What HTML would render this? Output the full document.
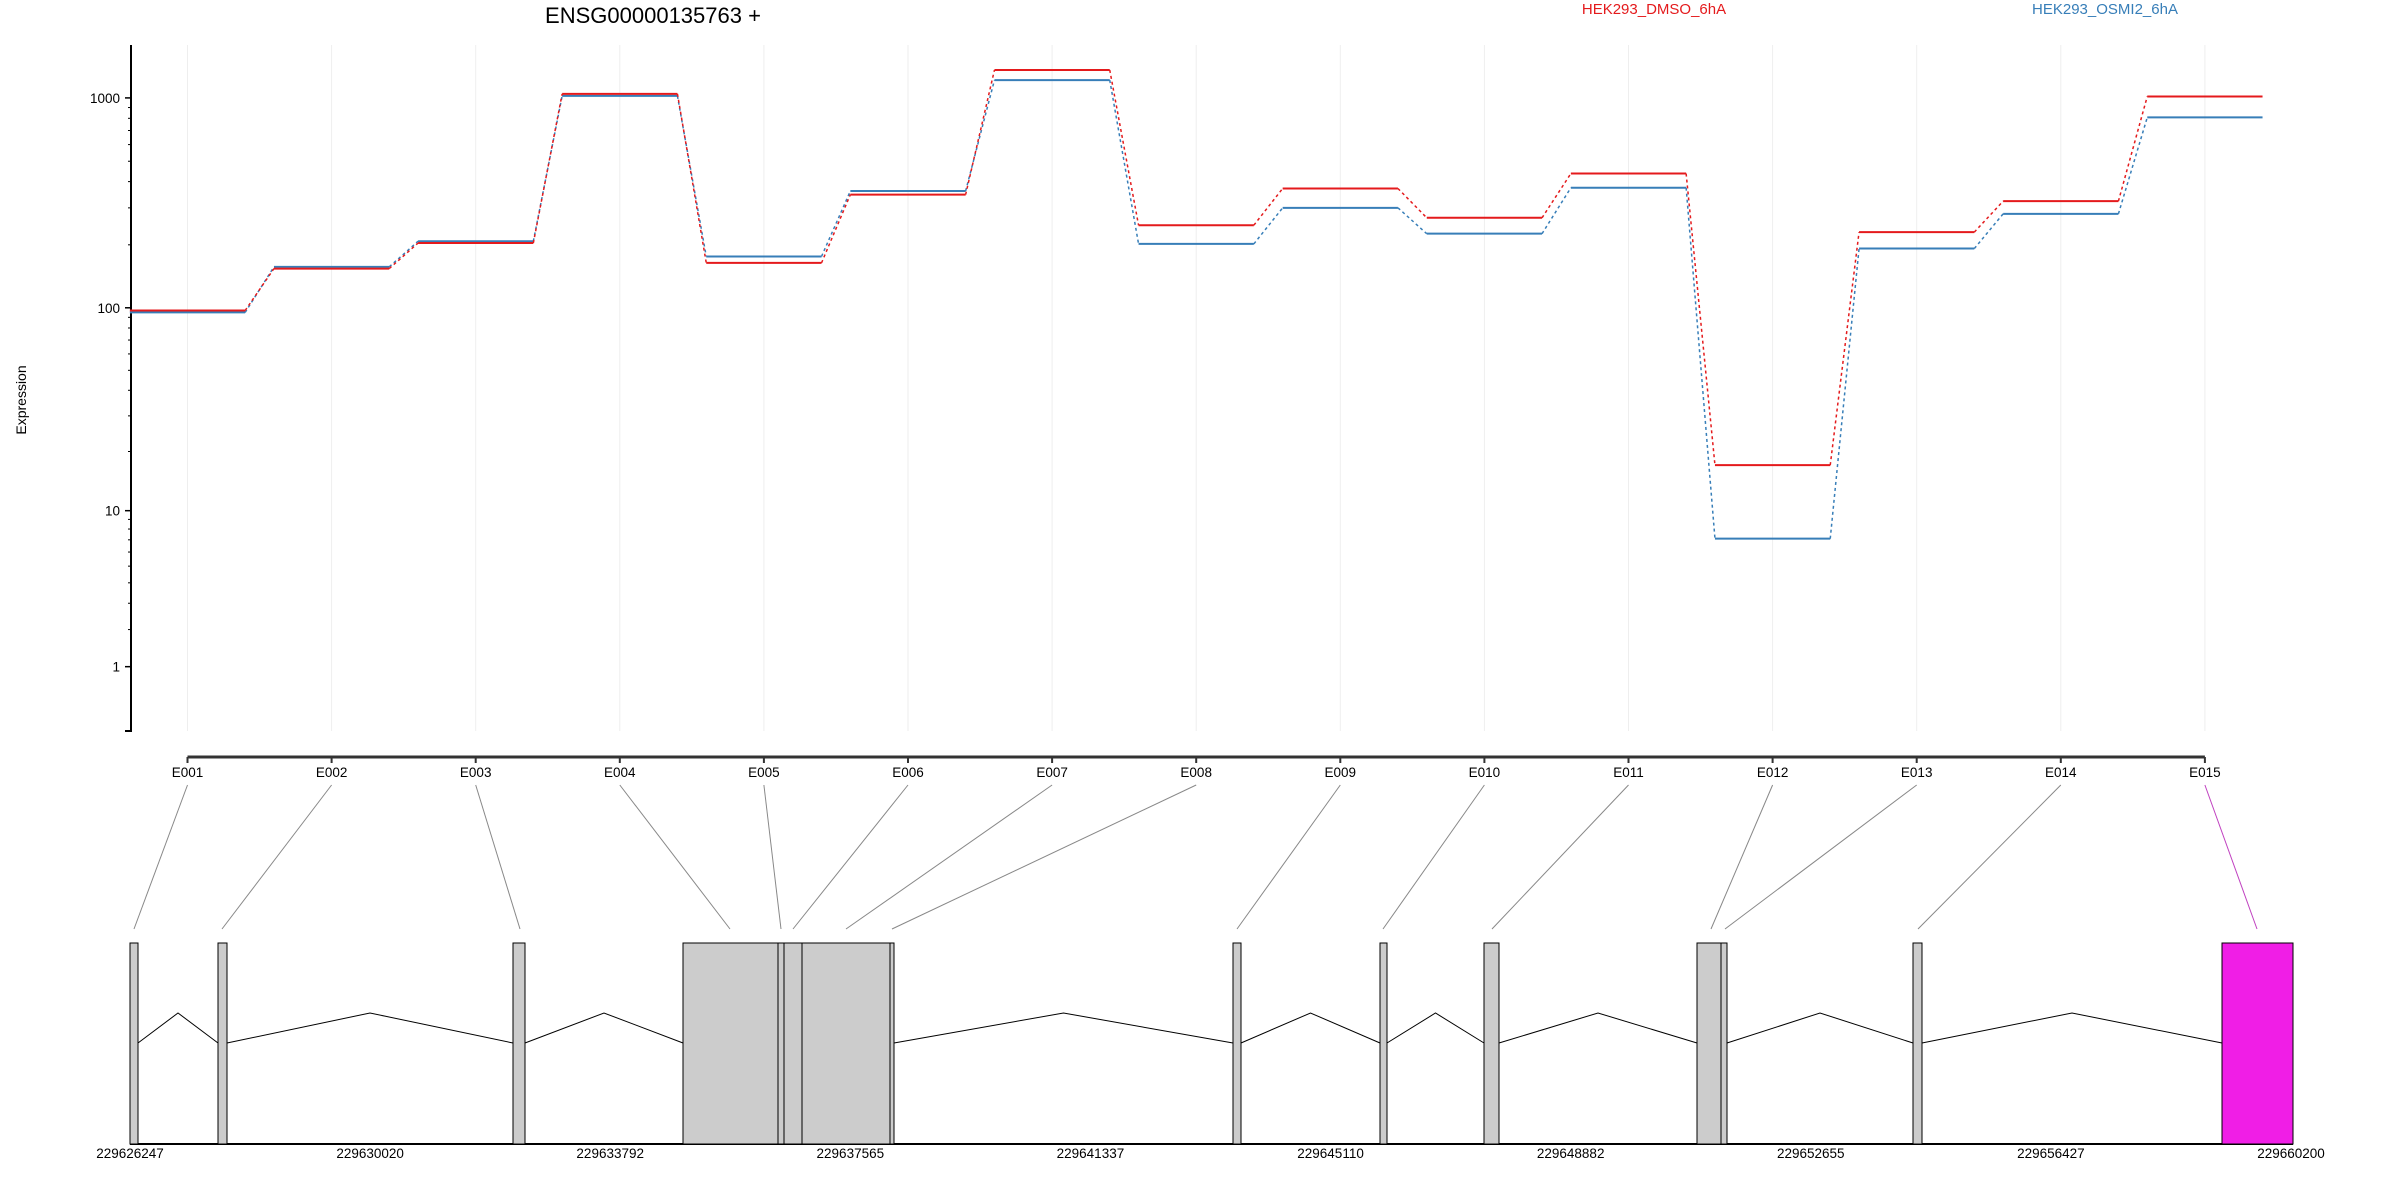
<!DOCTYPE html>
<html><head><meta charset="utf-8"><style>
html,body{margin:0;padding:0;background:#fff;}
svg{display:block;font-family:"Liberation Sans",sans-serif;}
</style></head><body>
<svg id="chart" width="2400" height="1200" viewBox="0 0 2400 1200" xmlns="http://www.w3.org/2000/svg">
<text x="653" y="23" font-size="22" text-anchor="middle">ENSG00000135763 +</text>
<text x="1654" y="14" font-size="15" fill="#e41a1c" text-anchor="middle">HEK293_DMSO_6hA</text>
<text x="2105" y="14" font-size="15" fill="#377eb8" text-anchor="middle">HEK293_OSMI2_6hA</text>
<text transform="translate(26,400) rotate(-90)" font-size="14" text-anchor="middle">Expression</text>
<g id="grid"></g><g id="yaxis"></g><g id="xaxis"></g><g id="series"></g><g id="gene"></g>
</svg>
<script>
const exonLabels = ["E001","E002","E003","E004","E005","E006","E007","E008","E009","E010","E011","E012","E013","E014","E015"];
const dmsoValues = [97,154,204,1045,164,347,1357,248,371,269,437,17.1,230,323,1016];
const osmi2Values = [95,157,208,1022,176,361,1215,202,300,226,374,7.1,192,281,808];
const yTickValues = [1,10,100,1000];
const yTickLabels = ["1","10","100","1000"];
const geneTickLabels = ["229626247","229630020","229633792","229637565","229641337","229645110","229648882","229652655","229656427","229660200"];
const genomeStart = 229626247, genomeEnd = 229660200;
// exon genomic coordinates (approx) [start,end]
const exonStarts = [229626247,229627787,229631639,229635640,229636848,229636962,229637256,229638584,229645230,229646859,229648543,229652208,229652576,229655590,229662830];
const exonEnds   = [229626388,229627943,229631845,229637181,229636962,229637256,229638567,229638654,229645371,229646974,229648803,229652576,229652682,229655747,229664069];
const exonTargets = [0,1,2,3,4,5,6,7,8,9,10,11,12,13,14];

const NS="http://www.w3.org/2000/svg";
function mk(tag,attrs,parent){const e=document.createElementNS(NS,tag);for(const k in attrs)e.setAttribute(k,attrs[k]);parent.appendChild(e);return e;}
const x0=187.5, dx=144.1;
const xScale = i => x0 + i*dx;
const yScale = v => 98 + (3 - Math.log10(v+1))*210.7;
const gx = g => 130 + (g-genomeStart)/(genomeEnd-genomeStart)*(2291-130);

const grid=document.getElementById('grid');
exonLabels.forEach((l,i)=>{const ln=mk('line',{x1:xScale(i),x2:xScale(i),y1:45,y2:731,stroke:'#eeeeee','stroke-width':1},grid);

});

const ya=document.getElementById('yaxis');
let yl=mk('line',{x1:131,x2:131,y1:45,y2:731,stroke:'#000','stroke-width':2},ya);


mk('line',{x1:125,x2:132,y1:731,y2:731,stroke:'#000','stroke-width':2},ya);
for(let d=0;d<4;d++){for(let m=2;m<10;m++){const v=m*Math.pow(10,d);if(v>1700)break;mk('line',{x1:128,x2:131,y1:yScale(v),y2:yScale(v),stroke:'#000','stroke-width':1},ya);}}
yTickValues.forEach((v,i)=>{mk('line',{x1:125,x2:131,y1:yScale(v),y2:yScale(v),stroke:'#000','stroke-width':1.5},ya);
const t=mk('text',{x:120,y:yScale(v)+5,'font-size':13.5,'text-anchor':'end'},ya);t.textContent=yTickLabels[i];

});

const xa=document.getElementById('xaxis');
let xl=mk('line',{x1:xScale(0),x2:xScale(14),y1:757,y2:757,stroke:'#333','stroke-width':3},xa);


exonLabels.forEach((l,i)=>{mk('line',{x1:xScale(i),x2:xScale(i),y1:757,y2:763,stroke:'#333','stroke-width':2},xa);
const t=mk('text',{x:xScale(i),y:777,'font-size':13.5,'text-anchor':'middle'},xa);t.textContent=l;

});

const sg=document.getElementById('series');
function drawSeries(vals,color,name){
  const g=mk('g',{},sg);
  
  
  const hw=dx*0.4;
  vals.forEach((v,i)=>{
    const s=mk('line',{x1:xScale(i)-hw,x2:xScale(i)+hw,y1:yScale(v),y2:yScale(v),stroke:color,'stroke-width':2},g);
    
    
    if(i<vals.length-1){
      const c=mk('line',{x1:xScale(i)+hw,x2:xScale(i+1)-hw,y1:yScale(v),y2:yScale(vals[i+1]),stroke:color,'stroke-width':1.5,'stroke-dasharray':'3,3'},g);
      
      
    }
  });
}
drawSeries(osmi2Values,'#377eb8','osmi2');
drawSeries(dmsoValues,'#e41a1c','dmso');

const gg=document.getElementById('gene');
let ga=mk('line',{x1:130,x2:2293,y1:1144,y2:1144,stroke:'#000','stroke-width':2},gg);


geneTickLabels.forEach((l,i)=>{const x=130+i*(2291-130)/9;const t=mk('text',{x:x,y:1158,'font-size':13.5,'text-anchor':'middle'},gg);t.textContent=l;

});
// exon rectangles (drawn pieces)
const rects=[[130,138],[218,227],[513,525],[683,778],[778,784],[784,802],[802,890],[890,894],[1233,1241],[1380,1387],[1484,1499],[1697,1721],[1721,1727],[1913,1922]];
const magenta=[2222,2293];
// introns between rects
const intr=[[138,218],[227,513],[525,683],[894,1233],[1241,1380],[1387,1484],[1499,1697],[1727,1913],[1922,2222]];
intr.forEach((p,i)=>{const m=(p[0]+p[1])/2;const pl=mk('polyline',{points:`${p[0]},1043 ${m},1013 ${p[1]},1043`,fill:'none',stroke:'#000','stroke-width':1},gg);

});
rects.forEach((r,i)=>{const re=mk('rect',{x:r[0],y:943,width:r[1]-r[0],height:201,fill:'#cccccc',stroke:'#000','stroke-width':1},gg);

});
let mr=mk('rect',{x:magenta[0],y:943,width:magenta[1]-magenta[0],height:201,fill:'#f01ee6',stroke:'#000','stroke-width':1},gg);


const targets=[134,222,520,730,781,793,846,892,1237,1383,1492,1711,1725,1918,2257];
targets.forEach((tx,i)=>{const c=mk('line',{x1:xScale(i),y1:785,x2:tx,y2:929,stroke:i==14?'#c040c0':'#888','stroke-width':1},gg);

});
</script>
</body></html>
